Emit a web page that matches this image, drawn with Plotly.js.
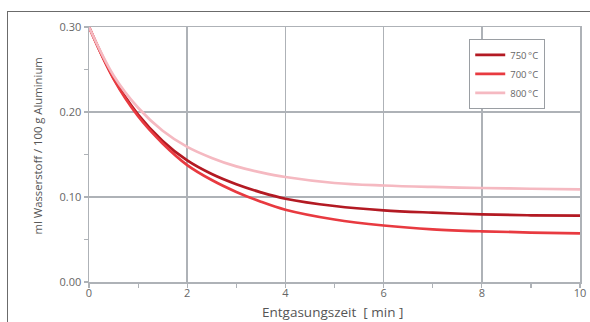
<!DOCTYPE html>
<html>
<head>
<meta charset="utf-8">
<script src="https://cdn.plot.ly/plotly-3.0.1.min.js"></script>
<style>
html,body{margin:0;padding:0;background:#fff;overflow:hidden;}
#frame{position:absolute;left:7px;top:11px;width:640px;height:360px;border-left:1.5px solid #6b6b6b;border-top:1.5px solid #6b6b6b;}
#chart{position:absolute;left:0;top:0;width:590px;height:322px;}
</style>
</head>
<body>
<div id="frame"></div>
<div id="chart"></div>
<script>
const timeMin = [0, 0.5, 1, 1.5, 2, 2.5, 3, 3.5, 4, 5, 6, 7, 8, 9, 10];
const series750 = [0.300, 0.240, 0.197, 0.166, 0.143, 0.127, 0.115, 0.1055, 0.098, 0.0894, 0.0843, 0.0816, 0.0796, 0.0785, 0.078];
const series700 = [0.300, 0.239, 0.195, 0.163, 0.1376, 0.120, 0.106, 0.0945, 0.085, 0.0735, 0.0665, 0.062, 0.0596, 0.0582, 0.0573];
const series800 = [0.300, 0.243, 0.205, 0.178, 0.159, 0.146, 0.136, 0.129, 0.1235, 0.1165, 0.1135, 0.1118, 0.1106, 0.1097, 0.109];
const seriesNames = ['750\u2009°C', '700\u2009°C', '800\u2009°C'];
const seriesColors = ['#b31a23', '#e83a40', '#f5b9c1'];
const xTicks = [0, 2, 4, 6, 8, 10];
const yTicks = [0, 0.1, 0.2, 0.3];
const yTickText = ['0.00', '0.10', '0.20', '0.30'];
const xTitle = 'Entgasungszeit  [ min ]';
const yTitle = 'ml Wasserstoff / 100 g Aluminium';

const data = [series750, series700, series800].map((ys, i) => ({
  x: timeMin, y: ys, type: 'scatter', mode: 'lines', name: seriesNames[i],
  line: {color: seriesColors[i], width: 2.7, shape: 'spline', smoothing: 1}
}));

const gridC = '#aeb2b7';
const layout = {
  width: 590, height: 322,
  margin: {l: 89, r: 10, t: 27, b: 40},
  paper_bgcolor: 'rgba(0,0,0,0)', plot_bgcolor: '#fff',
  font: {family: 'Open Sans, Noto Sans, sans-serif', color: '#666', size: 11},
  showlegend: true,
  legend: {
    x: 0.774, y: 0.952, xanchor: 'left', yanchor: 'top',
    bgcolor: '#fff', bordercolor: '#9a9ea3', borderwidth: 1.2,
    font: {size: 9.5, color: '#666'}, itemwidth: 30, tracegroupgap: 0,
    traceorder: 'normal'
  },
  xaxis: {
    range: [0, 10], tickvals: xTicks, ticktext: xTicks.map(String),
    showgrid: true, gridcolor: gridC, gridwidth: 1.5,
    showline: true, linecolor: gridC, linewidth: 1.5, mirror: true,
    ticks: '', zeroline: false,
    minor: {dtick: 1, ticks: 'outside', ticklen: 4, tickcolor: gridC, tickwidth: 1.2, showgrid: false},
    tickfont: {size: 11, color: '#666'}
  },
  yaxis: {
    range: [0, 0.3], tickvals: yTicks, ticktext: yTickText,
    showgrid: true, gridcolor: gridC, gridwidth: 1.5,
    showline: true, linecolor: gridC, linewidth: 1.5, mirror: true,
    ticks: 'outside', ticklen: 4, tickcolor: gridC, tickwidth: 1.2, zeroline: false,
    minor: {dtick: 0.05, ticks: 'outside', ticklen: 4, tickcolor: gridC, tickwidth: 1.2, showgrid: false},
    tickfont: {size: 11, color: '#666'}
  },
  annotations: [
    {text: xTitle, xref: 'paper', yref: 'paper', x: 0.496, y: -0.118, xanchor: 'center', yanchor: 'middle',
     showarrow: false, font: {size: 13.5, color: '#555'}},
    {text: yTitle, xref: 'paper', yref: 'paper', x: -0.104, y: 0.535, xanchor: 'center', yanchor: 'middle',
     textangle: -90, showarrow: false, font: {size: 11.3, color: '#555'}}
  ]
};
Plotly.newPlot('chart', data, layout, {staticPlot: true, displayModeBar: false});
</script>
</body>
</html>
